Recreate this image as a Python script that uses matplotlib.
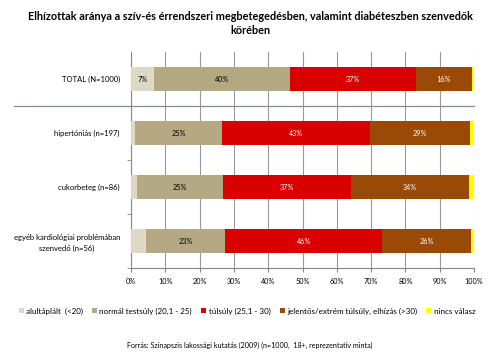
import matplotlib.pyplot as plt
import numpy as np
from matplotlib.patches import Patch

plt.rcParams['font.family'] = ['Lato', 'DejaVu Sans']

categories = ['TOTAL (N=1000)', 'hipertóniás (n=197)', 'cukorbeteg (n=86)',
              'egyéb kardiológiai problémában\nszenvedő (n=56)']
series = ['alultáplált  (<20)', 'normál testsúly (20,1 - 25)', 'túlsúly (25,1 - 30)',
          'jelentős/extrém túlsúly, elhízás (>30)', 'nincs válasz']
alultaplalt = [6.8, 1.2, 1.7, 4.4]
normal = [39.6, 25.3, 25.2, 23.1]
tulsuly = [36.8, 43.2, 37.2, 45.7]
jelentos = [16.1, 29.1, 34.4, 26.0]
nincs = [0.7, 1.2, 1.5, 0.8]
labels = [['7%', '40%', '37%', '16%'],
          ['', '25%', '43%', '29%'],
          ['', '25%', '37%', '34%'],
          ['', '23%', '46%', '26%']]

colors = ['#DDD9C4', '#B5A983', '#D90000', '#9A4A06', '#FFFF00']
text_colors = ['black', 'black', 'white', 'white', 'black']

fig = plt.figure(figsize=(5, 3.58), dpi=100)
ax = fig.add_axes([0.262, 0.2514, 0.686, 0.6033])

values = np.array([alultaplalt, normal, tulsuly, jelentos, nincs])
y = np.arange(len(categories))
left = np.zeros(len(categories))
for i, (name, col) in enumerate(zip(series, colors)):
    ax.barh(y, values[i], left=left, height=0.45, color=col, zorder=3)
    if i < 4:
        for j in range(len(categories)):
            txt = labels[j][i]
            if txt:
                ax.text(left[j] + values[i][j] / 2, y[j], txt, ha='center', va='center',
                        fontsize=5.2, color=text_colors[i], zorder=4)
    left += values[i]

ax.set_xlim(0, 100)
ax.set_ylim(len(categories) - 0.5, -0.5)
ax.set_xticks(np.arange(0, 101, 10))
ax.set_xticklabels([f'{v}%' for v in range(0, 101, 10)], fontsize=5.2)
ax.set_yticks(y)
ax.set_yticklabels(categories, fontsize=5.5, linespacing=1.5)
for t in ax.get_yticklabels():
    t.set_multialignment('center')
ax.set_yticks(np.arange(0.5, len(categories), 1), minor=True)
ax.tick_params(axis='y', which='major', length=0, pad=8)
ax.tick_params(axis='y', which='minor', length=3, color='#888888')
ax.tick_params(axis='x', length=3, color='#888888', pad=4)
ax.grid(axis='x', color='#999999', linewidth=0.8, zorder=0)
for s in ['top', 'right']:
    ax.spines[s].set_visible(False)
for s in ['left', 'bottom']:
    ax.spines[s].set_color('#888888')
    ax.spines[s].set_linewidth(0.8)

# separator between TOTAL and the subgroups
ax.plot([-0.341, 1.0], [0.5, 0.5], transform=ax.get_yaxis_transform(),
        color='#7F8FA0', linewidth=0.9, clip_on=False, zorder=2)

fig.text(0.5, 0.968, 'Elhízottak aránya a szív-és érrendszeri megbetegedésben, valamint diabéteszben szenvedők\nkörében',
         ha='center', va='top', fontsize=7.85, fontweight='bold', linespacing=1.3)

handles = [Patch(facecolor=c, edgecolor='none') for c in colors]
fig.legend(handles, series, loc='center', bbox_to_anchor=(0.494, 0.131), ncol=5,
           fontsize=5.8, frameon=False, handlelength=0.6, handleheight=0.6,
           handletextpad=0.3, columnspacing=1.15)

fig.text(0.5, 0.034, 'Forrás: Szinapszis lakossági kutatás (2009) (n=1000,  18+, reprezentatív minta)',
         ha='center', va='center', fontsize=5.1)

fig.savefig('out.png', dpi=100)
